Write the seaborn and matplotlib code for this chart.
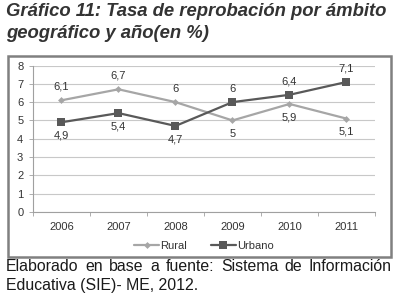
import pandas as pd
import matplotlib
matplotlib.use("Agg")
import matplotlib.pyplot as plt
from matplotlib.patches import Rectangle
import seaborn as sns

# data
years = ["2006", "2007", "2008", "2009", "2010", "2011"]
rural = [6.1, 6.7, 6.0, 5.0, 5.9, 5.1]
urbano = [4.9, 5.4, 4.7, 6.0, 6.4, 7.1]
rural_pos = ["top", "top", "top", "bottom", "bottom", "bottom"]
urbano_pos = ["bottom", "bottom", "bottom", "top", "top", "top"]

sns.set_theme(style="white")
plt.rcParams["font.family"] = ["Liberation Sans", "DejaVu Sans"]

df = pd.DataFrame({
    "year": years * 2,
    "value": rural + urbano,
    "serie": ["Rural"] * 6 + ["Urbano"] * 6,
})

fig = plt.figure(figsize=(4.06, 3.05), dpi=100)
ax = fig.add_axes([33 / 406, 1 - 212 / 305, 342 / 406, 146.5 / 305])

sns.lineplot(data=df, x="year", y="value", hue="serie", style="serie",
             markers={"Rural": "D", "Urbano": "s"}, dashes=False,
             palette={"Rural": "#a6a6a6", "Urbano": "#595959"},
             markersize=5, linewidth=1.6, markeredgewidth=0, ax=ax)
for line in ax.lines:
    if line.get_marker() == "D":
        line.set_markersize(3.5)
    elif line.get_marker() == "s":
        line.set_markersize(6)

def fmt(v):
    return ("%g" % v).replace(".", ",")

for vals, pos in [(rural, rural_pos), (urbano, urbano_pos)]:
    for i, (v, p) in enumerate(zip(vals, pos)):
        dy = 6 if p == "top" else -6
        ax.annotate(fmt(v), (i, v), xytext=(0, dy), textcoords="offset points",
                    ha="center", va="bottom" if p == "top" else "top",
                    fontsize=8, color="#333333")

ax.set_xlim(-0.5, 5.5)
ax.set_ylim(0, 8)
ax.set_yticks(range(0, 9))
ax.set_xlabel("")
ax.set_ylabel("")
ax.yaxis.grid(True, color="#c8c8c8", linewidth=0.8)
ax.set_axisbelow(True)
for s in ["top", "right"]:
    ax.spines[s].set_visible(False)
for s in ["left", "bottom"]:
    ax.spines[s].set_color("#a0a0a0")
    ax.spines[s].set_linewidth(0.8)
ax.tick_params(axis="y", length=3, width=0.6, color="#a0a0a0", labelsize=8,
               labelcolor="#333333", pad=4, left=True)
ax.tick_params(axis="x", which="major", length=0, labelsize=8,
               labelcolor="#333333", pad=7)
ax.set_xticks([i + 0.5 for i in range(-1, 6)], minor=True)
ax.tick_params(axis="x", which="minor", length=3, width=0.6, color="#a0a0a0",
               bottom=True)

leg = ax.legend(loc="upper center", bbox_to_anchor=(0.5, -0.13), ncol=2,
                frameon=False, fontsize=8, handlelength=2.2,
                columnspacing=2.2, handletextpad=0.1)
for t in leg.get_texts():
    t.set_color("#333333")

# chart frame
fig.patches.append(Rectangle((8 / 406, 1 - 257 / 305), 383 / 406, 201 / 305,
                             transform=fig.transFigure, fill=False,
                             edgecolor="#808080", linewidth=1.8))

fig.text(6 / 406, 1 - 3 / 305, "Gráfico 11: Tasa de reprobación por ámbito",
         fontsize=13.3, fontweight="bold", fontstyle="italic", color="#333333",
         va="top", ha="left")
fig.text(6 / 406, 1 - 25 / 305, "geográfico y año(en %)",
         fontsize=13.3, fontweight="bold", fontstyle="italic", color="#333333",
         va="top", ha="left")

# justified first line of the caption
words = "Elaborado en base a fuente: Sistema de Información".split()
renderer = fig.canvas.get_renderer()
objs = [fig.text(0, 1 - 259 / 305, w, fontsize=11.4, color="#1a1a1a", va="top")
        for w in words]
widths = [o.get_window_extent(renderer).width for o in objs]
left, right = 6, 392
gap = (right - left - sum(widths)) / (len(words) - 1)
x = left
for o, w in zip(objs, widths):
    o.set_x(x / 406)
    x += w + gap
fig.text(6 / 406, 1 - 278 / 305, "Educativa (SIE)- ME, 2012.", fontsize=11.4,
         color="#1a1a1a", va="top")

fig.savefig("out.png", dpi=100)
